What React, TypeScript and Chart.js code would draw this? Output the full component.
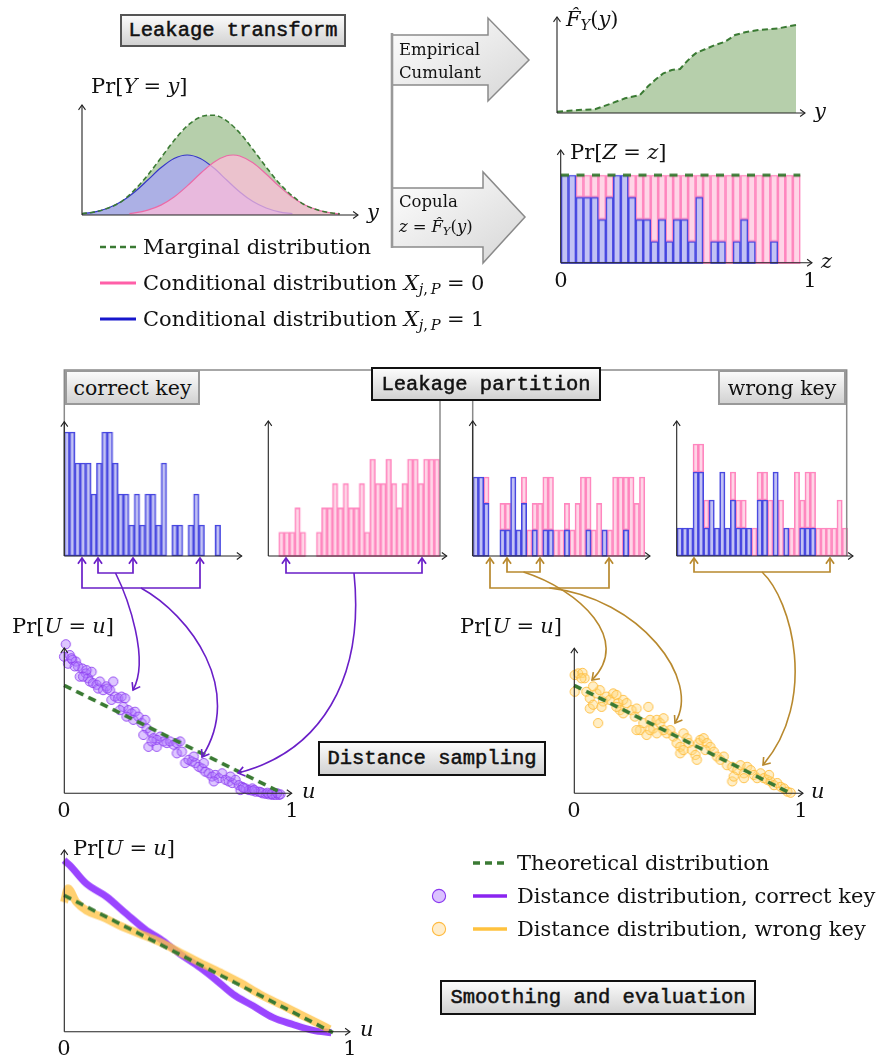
import React, { useEffect, useRef } from 'react';
import { Chart, registerables } from 'chart.js';

Chart.register(...registerables);

// ---------------- data ----------------
// Leakage transform: Pr[Y = y]
const Y_GRID_MARGINAL = [0, 0.05, 0.1, 0.15, 0.2, 0.25, 0.3, 0.35, 0.4, 0.45, 0.5, 0.55, 0.6, 0.65, 0.7, 0.75, 0.8, 0.85, 0.9, 0.95, 0.98];
const PDF_MARGINAL = [1.3, 3.2, 7.0, 13.4, 25.1, 39.9, 57.1, 74.5, 89.1, 98.0, 99.8, 94.2, 82.0, 65.6, 48.0, 31.8, 19.0, 9.7, 4.7, 2.0, 1.2];
const Y_GRID_X1 = [0, 0.05, 0.1, 0.15, 0.2, 0.25, 0.3, 0.35, 0.4, 0.45, 0.5, 0.55, 0.6, 0.65, 0.7, 0.75, 0.8];
const PDF_X1 = [1.3, 3.2, 7.0, 13.4, 23.0, 35.0, 47.2, 56.5, 60.0, 56.5, 47.2, 35.0, 23.0, 13.4, 7.0, 3.2, 1.3];
const Y_GRID_X0 = [0.18, 0.2, 0.25, 0.3, 0.35, 0.4, 0.45, 0.5, 0.55, 0.575, 0.6, 0.65, 0.7, 0.75, 0.8, 0.85, 0.9, 0.95, 0.98];
const PDF_X0 = [1.5, 2.1, 4.9, 9.9, 18.0, 29.1, 41.5, 52.6, 59.2, 60.0, 59.0, 52.2, 41.0, 28.6, 17.7, 9.7, 4.7, 2.0, 1.2];

// Empirical cumulant F_Y(y)
const CDF_Y = [0, 0.089, 0.159, 0.229, 0.285, 0.347, 0.382, 0.41, 0.445, 0.48, 0.515, 0.536, 0.563, 0.584, 0.619, 0.661, 0.703, 0.745, 0.787, 0.842, 0.926, 1.0];
const CDF_F = [0.015, 0.034, 0.042, 0.11, 0.167, 0.205, 0.307, 0.375, 0.451, 0.489, 0.5, 0.565, 0.64, 0.685, 0.724, 0.773, 0.81, 0.886, 0.917, 0.943, 0.962, 1.0];

// Copula histograms (32 bins)
const BIN_LABELS = ['1', '2', '3', '4', '5', '6', '7', '8', '9', '10', '11', '12', '13', '14', '15', '16', '17', '18', '19', '20', '21', '22', '23', '24', '25', '26', '27', '28', '29', '30', '31', '32'];
const Z_HIST_X1 = [4, 4, 3, 3, 3, 2, 3, 4, 4, 3, 2, 2, 1, 2, 1, 2, 2, 1, 3, 0, 1, 1, 0, 1, 2, 1, 0, 0, 1, 0, 0, 0];
const Z_HIST_X0 = [0, 0, 1, 1, 1, 2, 1, 0, 0, 1, 2, 2, 3, 2, 3, 2, 2, 3, 1, 4, 3, 3, 4, 3, 2, 3, 4, 4, 3, 4, 4, 4];
const UNIFORM_Z = [0, 1];
const UNIFORM_LEVEL = [4, 4];

// Wrong key partitions
const WRONG_A_X1 = [3, 3, 2, 0, 0, 1, 1, 3, 1, 2, 0, 1, 0, 1, 1, 0, 0, 1, 0, 0, 0, 1, 0, 0, 1, 0, 0, 0, 1, 0, 0, 0];
const WRONG_A_X0 = [0, 0, 1, 0, 0, 1, 1, 0, 0, 1, 1, 1, 2, 2, 2, 1, 1, 1, 1, 2, 3, 2, 1, 2, 0, 1, 3, 3, 2, 3, 2, 3];
const WRONG_B_X1 = [1, 1, 1, 3, 3, 1, 2, 1, 3, 1, 2, 1, 1, 1, 0, 2, 2, 0, 3, 0, 1, 0, 0, 1, 1, 1, 0, 0, 0, 0, 0, 0];
const WRONG_B_X0 = [0, 0, 0, 1, 1, 1, 0, 0, 0, 0, 1, 1, 1, 0, 1, 1, 1, 2, 0, 2, 0, 1, 3, 1, 2, 2, 1, 1, 1, 1, 2, 1];

// Distance samples (u, Pr)
const CORRECT_SAMPLES = [
  [0.008, 2.76], [0.0, 2.53], [0.018, 2.4], [0.026, 2.56], [0.038, 2.47], [0.054, 2.44], [0.064, 2.35], [0.072, 2.16],
  [0.084, 2.31], [0.1, 2.22], [0.11, 2.13], [0.126, 2.25], [0.118, 2.07], [0.133, 2.04], [0.149, 2.01], [0.156, 1.94],
  [0.164, 2.07], [0.179, 1.91], [0.194, 1.98], [0.21, 1.91], [0.225, 2.07], [0.217, 1.73], [0.233, 1.79], [0.248, 1.76],
  [0.263, 1.79], [0.279, 1.76], [0.271, 1.6], [0.294, 1.54], [0.309, 1.48], [0.325, 1.51], [0.317, 1.36], [0.34, 1.42],
  [0.355, 1.3], [0.371, 1.36], [0.378, 1.2], [0.394, 1.14], [0.363, 1.08], [0.386, 0.86], [0.409, 1.02], [0.424, 0.86],
  [0.44, 1.05], [0.455, 0.96], [0.47, 0.93], [0.485, 0.96], [0.501, 0.9], [0.516, 0.93], [0.531, 0.96], [0.516, 0.74],
  [0.539, 0.77], [0.554, 0.56], [0.57, 0.62], [0.585, 0.59], [0.6, 0.56], [0.616, 0.49], [0.631, 0.46], [0.646, 0.4],
  [0.662, 0.37], [0.677, 0.31], [0.692, 0.34], [0.708, 0.28], [0.723, 0.37], [0.685, 0.22], [0.738, 0.25], [0.753, 0.22],
  [0.769, 0.19], [0.784, 0.25], [0.799, 0.15], [0.815, 0.12], [0.83, 0.09], [0.845, 0.06], [0.861, 0.09], [0.876, 0.03],
  [0.891, 0.03], [0.907, 0.0], [0.922, -0.01], [0.937, -0.02], [0.953, -0.03], [0.968, -0.03], [0.983, -0.03], [0.807, 0.06],
  [0.761, 0.31], [0.639, 0.56], [0.593, 0.68], [0.424, 0.99], [0.401, 0.96], [0.286, 1.42], [0.256, 1.54], [0.198, 1.94],
  [0.103, 2.28], [0.087, 2.16], [0.049, 2.35], [0.034, 2.5], [0.86, 0.05], [0.9, 0.02], [0.93, 0.01], [0.95, -0.01],
  [0.975, 0.0], [0.99, -0.02], [0.82, 0.1], [0.87, 0.06],
];
const WRONG_SAMPLES = [
  [0.003, 2.19], [0.019, 2.22], [0.039, 2.23], [0.049, 2.13], [0.003, 1.88], [0.057, 1.88], [0.073, 1.76], [0.073, 1.57],
  [0.088, 1.64], [0.104, 1.85], [0.119, 1.91], [0.111, 1.3], [0.134, 1.7], [0.15, 1.79], [0.165, 1.73], [0.181, 1.85],
  [0.196, 1.82], [0.204, 1.67], [0.212, 1.54], [0.227, 1.73], [0.243, 1.67], [0.227, 1.48], [0.266, 1.54], [0.281, 1.42],
  [0.289, 1.57], [0.304, 1.17], [0.32, 1.3], [0.335, 1.08], [0.343, 1.6], [0.351, 1.36], [0.366, 1.2], [0.382, 1.36],
  [0.397, 1.3], [0.413, 1.39], [0.428, 1.11], [0.444, 1.17], [0.459, 1.05], [0.474, 0.93], [0.49, 0.86], [0.505, 1.11],
  [0.521, 1.02], [0.529, 0.93], [0.49, 0.74], [0.544, 0.8], [0.56, 0.71], [0.575, 0.93], [0.583, 0.99], [0.598, 1.02],
  [0.614, 0.93], [0.629, 0.86], [0.645, 0.77], [0.66, 0.68], [0.675, 0.62], [0.691, 0.68], [0.706, 0.52], [0.73, 0.49],
  [0.73, 0.22], [0.753, 0.43], [0.768, 0.52], [0.784, 0.37], [0.799, 0.49], [0.815, 0.43], [0.83, 0.34], [0.845, 0.28],
  [0.861, 0.37], [0.876, 0.28], [0.892, 0.25], [0.907, 0.22], [0.923, 0.15], [0.938, 0.19], [0.954, 0.12], [0.969, 0.09],
  [0.985, 0.03], [1.0, 0.01], [0.351, 1.17], [0.413, 1.17], [0.289, 1.17], [0.088, 1.98], [0.034, 2.13], [0.127, 1.6],
  [0.505, 0.8], [0.606, 0.8], [0.737, 0.31], [0.784, 0.28], [0.9, 0.34], [0.567, 0.62], [0.382, 1.11], [0.196, 1.6],
];
const THEORY_U = [0, 1];
const THEORY_PDF = [2, 0];

// Smoothed distance distributions
const SMOOTH_CORRECT_U = [0, 0.021, 0.083, 0.158, 0.232, 0.306, 0.356, 0.43, 0.505, 0.567, 0.628, 0.703, 0.777, 0.851, 0.926, 0.994];
const SMOOTH_CORRECT_PDF = [2.51, 2.44, 2.17, 1.98, 1.73, 1.49, 1.37, 1.15, 0.95, 0.76, 0.56, 0.39, 0.22, 0.12, 0.035, 0.0];
const SMOOTH_WRONG_U = [0, 0.015, 0.046, 0.083, 0.145, 0.207, 0.281, 0.356, 0.43, 0.505, 0.579, 0.654, 0.728, 0.815, 0.901, 0.988];
const SMOOTH_WRONG_PDF = [1.9, 2.1, 1.9, 1.78, 1.68, 1.56, 1.44, 1.32, 1.17, 1.02, 0.88, 0.73, 0.56, 0.39, 0.22, 0.05];

// ---------------- styles ----------------
const SERIF = '"DejaVu Serif", "Liberation Serif", serif';
const MONO = '"Liberation Mono", "DejaVu Sans Mono", monospace';
const GREEN = '#3a7a33';
const GREEN_FILL = 'rgb(182,207,171)';
const BLUE_BAR = 'rgba(110,110,228,0.42)';
const BLUE_EDGE = '#4545e0';
const PINK_BAR = 'rgba(255,150,195,0.4)';
const PINK_EDGE = '#ff86bf';
const PURPLE = '#6a1fc8';
const GOLD = '#b8892e';
const PAD = 20;

const pts = (xs: number[], ys: number[]) => xs.map((x, i) => ({ x, y: ys[i] }));
const pairs = (p: number[][]) => p.map(([x, y]) => ({ x, y }));
const lin = (min: number, max: number, extra: any = {}) => ({ type: 'linear', min, max, display: false, ...extra });

function common(scales: any) {
  return {
    responsive: true,
    maintainAspectRatio: false,
    animation: false,
    devicePixelRatio: 1,
    events: [],
    layout: { padding: PAD },
    plugins: { legend: { display: false }, tooltip: { enabled: false }, title: { display: false } },
    scales,
  };
}

const barStyle = { borderWidth: 1, borderSkipped: false, barPercentage: 1, categoryPercentage: 1, clip: false };

function histConfig(blue: number[] | null, pink: number[] | null, max: number) {
  const ds: any[] = [];
  // lower order = stacked first (bottom); blue sits at the bottom of each bin
  if (blue) ds.push({ data: blue, backgroundColor: BLUE_BAR, borderColor: BLUE_EDGE, stack: 's', order: 1, ...barStyle });
  if (pink) ds.push({ data: pink, backgroundColor: PINK_BAR, borderColor: PINK_EDGE, stack: 's', order: 2, ...barStyle });
  const scales: any = {
    x: { type: 'category', stacked: true, display: false },
    y: lin(0, max, { stacked: true }),
  };
  return { type: 'bar', data: { labels: BIN_LABELS, datasets: ds }, options: common(scales) };
}

function scatterConfig(samples: number[][], fill: string, edge: string) {
  return {
    type: 'scatter',
    data: {
      datasets: [
        { type: 'line', data: pts(THEORY_U, THEORY_PDF), borderColor: GREEN, borderWidth: 3.6, borderDash: [8, 5.5], pointRadius: 0, fill: false, clip: false, order: 0 },
        { data: pairs(samples), pointRadius: 4.6, backgroundColor: fill, borderColor: edge, borderWidth: 1, clip: false, order: 1 },
      ],
    },
    options: common({ x: lin(0, 1), y: lin(0, 2.839) }),
  };
}

const Z_AREA = { x: 560.7, y: 175, w: 239.3, h: 87.7 };

const CONFIGS: { area: { x: number; y: number; w: number; h: number }; config: any }[] = [
  {
    area: { x: 82, y: 115, w: 263, h: 100 },
    config: {
      type: 'line',
      data: {
        datasets: [
          { data: pts(Y_GRID_MARGINAL, PDF_MARGINAL), borderColor: GREEN, borderWidth: 1.6, borderDash: [5, 3], fill: false, pointRadius: 0, cubicInterpolationMode: 'monotone', clip: false, order: 0 },
          { data: pts(Y_GRID_X0, PDF_X0), borderColor: '#ec6aa6', borderWidth: 1.2, backgroundColor: 'rgba(255,188,218,0.72)', fill: 'origin', pointRadius: 0, cubicInterpolationMode: 'monotone', order: 1 },
          { data: pts(Y_GRID_X1, PDF_X1), borderColor: '#3535c8', borderWidth: 1.2, backgroundColor: 'rgba(170,170,238,0.85)', fill: 'origin', pointRadius: 0, cubicInterpolationMode: 'monotone', order: 2 },
          { data: pts(Y_GRID_MARGINAL, PDF_MARGINAL), borderWidth: 0, borderColor: 'rgba(0,0,0,0)', backgroundColor: GREEN_FILL, fill: 'origin', pointRadius: 0, cubicInterpolationMode: 'monotone', order: 3 },
        ],
      },
      options: common({ x: lin(0, 1), y: lin(0, 100) }),
    },
  },
  {
    area: { x: 557, y: 25, w: 239, h: 88 },
    config: {
      type: 'line',
      data: {
        datasets: [
          { data: pts(CDF_Y, CDF_F), borderColor: GREEN, borderWidth: 2, borderDash: [6, 3.5], backgroundColor: GREEN_FILL, fill: 'origin', pointRadius: 0, tension: 0, clip: false },
        ],
      },
      options: common({ x: lin(0, 1), y: lin(0, 1) }),
    },
  },
  { area: Z_AREA, config: histConfig(Z_HIST_X1, Z_HIST_X0, 4) },
  {
    area: Z_AREA,
    config: {
      type: 'line',
      data: {
        datasets: [
          { data: pts(UNIFORM_Z, UNIFORM_LEVEL), borderColor: GREEN, borderWidth: 3, borderDash: [8, 7.5], pointRadius: 0, fill: false, clip: false },
        ],
      },
      options: common({ x: lin(0, 1), y: lin(0, 4) }),
    },
  },
  { area: { x: 64.3, y: 432, w: 171.8, h: 124 }, config: histConfig(Z_HIST_X1, null, 4) },
  { area: { x: 268.3, y: 459.3, w: 170.7, h: 96.7 }, config: histConfig(null, Z_HIST_X0, 4) },
  { area: { x: 472.7, y: 476.7, w: 171.8, h: 79.3 }, config: histConfig(WRONG_A_X1, WRONG_A_X0, 3) },
  { area: { x: 676.7, y: 444, w: 170.6, h: 112 }, config: histConfig(WRONG_B_X1, WRONG_B_X0, 4) },
  { area: { x: 64.3, y: 640, w: 217.7, h: 153.3 }, config: scatterConfig(CORRECT_SAMPLES, 'rgba(175,120,255,0.42)', 'rgba(140,60,240,0.85)') },
  { area: { x: 574.3, y: 640, w: 215.7, h: 153.3 }, config: scatterConfig(WRONG_SAMPLES, 'rgba(255,215,120,0.42)', 'rgba(255,188,60,0.9)') },
  {
    area: { x: 64.3, y: 850, w: 269, h: 181.7 },
    config: {
      type: 'line',
      data: {
        datasets: [
          { data: pts(THEORY_U, THEORY_PDF), borderColor: GREEN, borderWidth: 3.6, borderDash: [8, 5.5], pointRadius: 0, fill: false, clip: false, order: 0 },
          { data: pts(SMOOTH_WRONG_U, SMOOTH_WRONG_PDF), borderColor: 'rgba(255,195,70,0.78)', borderWidth: 8, pointRadius: 0, fill: false, cubicInterpolationMode: 'monotone', clip: false, order: 1 },
          { data: pts(SMOOTH_CORRECT_U, SMOOTH_CORRECT_PDF), borderColor: '#9a45ff', borderWidth: 7, pointRadius: 0, fill: false, cubicInterpolationMode: 'monotone', clip: false, order: 2 },
        ],
      },
      options: common({ x: lin(0, 1), y: lin(0, 2.658) }),
    },
  },
];

// ---------------- layout (decorations) ----------------
const AXES = [
  { ox: 82, oy: 215, xt: 358, yt: 105 },
  { ox: 557, oy: 113, xt: 805, yt: 17 },
  { ox: 560.7, oy: 262.7, xt: 812, yt: 150 },
  { ox: 64.3, oy: 556, xt: 241.7, yt: 421.7 },
  { ox: 268.3, oy: 556, xt: 446.7, yt: 421 },
  { ox: 472.7, oy: 556, xt: 650, yt: 421 },
  { ox: 676.7, oy: 556, xt: 853, yt: 421 },
  { ox: 64.3, oy: 793.3, xt: 291.7, yt: 648 },
  { ox: 574.3, oy: 793.3, xt: 803, yt: 648.3 },
  { ox: 64.3, oy: 1031.7, xt: 350, yt: 850 },
];

const BRACKETS = [
  { c: PURPLE, a: 98, b: 133, y: 573 },
  { c: PURPLE, a: 82, b: 200, y: 588 },
  { c: PURPLE, a: 286, b: 422, y: 573 },
  { c: GOLD, a: 507, b: 540, y: 572 },
  { c: GOLD, a: 490, b: 609, y: 588 },
  { c: GOLD, a: 694, b: 830, y: 572 },
];

const CURVES = [
  { c: PURPLE, p: [[115.5, 573], [128, 598], [150, 660], [133, 690]] },
  { c: PURPLE, p: [[141, 588], [190, 615], [245, 690], [202, 757]] },
  { c: PURPLE, p: [[354, 573], [365, 680], [320, 752], [238, 773]] },
  { c: GOLD, p: [[523.5, 572], [580, 590], [632, 640], [592, 680]] },
  { c: GOLD, p: [[549.5, 588], [640, 598], [702, 680], [675, 723]] },
  { c: GOLD, p: [[762, 572], [792, 600], [818, 700], [763, 765]] },
];

function head(tx: number, ty: number, dx: number, dy: number, L = 6, a = 0.62) {
  const len = Math.hypot(dx, dy);
  const bx = -dx / len, by = -dy / len;
  const c = Math.cos(a), s = Math.sin(a);
  const p1x = tx + L * (bx * c - by * s), p1y = ty + L * (bx * s + by * c);
  const p2x = tx + L * (bx * c + by * s), p2y = ty + L * (-bx * s + by * c);
  return `M${p1x},${p1y} L${tx},${ty} L${p2x},${p2y}`;
}

function ChartBox({ area, config }: { area: { x: number; y: number; w: number; h: number }; config: any }) {
  const ref = useRef<HTMLCanvasElement>(null);
  useEffect(() => {
    const chart = new Chart(ref.current as HTMLCanvasElement, config);
    return () => chart.destroy();
  }, []);
  return (
    <div style={{ position: 'absolute', left: area.x - PAD, top: area.y - PAD, width: area.w + 2 * PAD, height: area.h + 2 * PAD }}>
      <canvas ref={ref} />
    </div>
  );
}

function Txt({ x, y, size = 21, align = 'left', font = SERIF, children }: any) {
  return (
    <div
      style={{
        position: 'absolute', left: x, top: y,
        transform: `translate(${align === 'center' ? '-50%' : '0'},-50%)`,
        fontSize: size, fontFamily: font, lineHeight: 1, whiteSpace: 'nowrap', color: '#111',
      }}
    >
      {children}
    </div>
  );
}

function LBox({ x, y, w, h, border, font = MONO, size = 20.5, stroke = true, children }: any) {
  return (
    <div
      style={{
        position: 'absolute', left: x, top: y, width: w, height: h, boxSizing: 'border-box',
        border: `2px solid ${border}`, background: 'linear-gradient(#fbfbfb, #d2d2d2)',
        display: 'flex', alignItems: 'center', justifyContent: 'center',
        fontFamily: font, fontSize: size, color: '#111', whiteSpace: 'nowrap',
        WebkitTextStroke: stroke ? '0.5px #111' : undefined,
      }}
    >
      {children}
    </div>
  );
}

const Sub = ({ children }: any) => <sub style={{ fontSize: '0.7em', verticalAlign: '-0.3em', lineHeight: 0 }}>{children}</sub>;
const I = ({ children }: any) => <i>{children}</i>;
const Eq = () => <span style={{ margin: '0 0.3em' }}>=</span>;
const FHat = () => (<><I>F&#770;</I><Sub><I>Y</I></Sub></>);
const PrU = () => (<span>Pr[<I>U</I><Eq /><I>u</I>]</span>);

export default function App() {
  return (
    <div style={{ position: 'absolute', left: 0, top: 0, width: 881, height: 1061, background: '#fff', overflow: 'hidden' }}>
      {CONFIGS.map((c, i) => (
        <ChartBox key={i} area={c.area} config={c.config} />
      ))}
      <svg width={881} height={1061} style={{ position: 'absolute', left: 0, top: 0, pointerEvents: 'none' }}>
        <defs>
          <linearGradient id="blk" x1="0" y1="0" x2="1" y2="1">
            <stop offset="0" stopColor="#ffffff" />
            <stop offset="1" stopColor="#d6d6d6" />
          </linearGradient>
        </defs>
        {/* partition frames */}
        <path d="M64.3,556 V370 H440 V556" fill="none" stroke="#8a8a8a" strokeWidth={1.5} />
        <path d="M472.7,556 V370 H846.7 V556" fill="none" stroke="#8a8a8a" strokeWidth={1.5} />
        {/* block arrows */}
        <path d="M392,35 H488 V18 L529,60 L488,101 V85 H392 Z" fill="url(#blk)" stroke="#8a8a8a" strokeWidth={1.5} />
        <path d="M392,188 H483 V172 L525,217 L483,263 V247 H392 Z" fill="url(#blk)" stroke="#8a8a8a" strokeWidth={1.5} />
        <path d="M392,33 V248" stroke="#999" strokeWidth={2.6} />
        {/* axes */}
        {AXES.map((a, i) => (
          <g key={i} stroke="#222" strokeWidth={1.1} fill="none">
            <path d={`M${a.ox},${a.oy} H${a.xt}`} />
            <path d={head(a.xt, a.oy, 1, 0, 6)} />
            <path d={`M${a.ox},${a.oy} V${a.yt}`} />
            <path d={head(a.ox, a.yt, 0, -1, 6)} />
          </g>
        ))}
        {/* brackets */}
        {BRACKETS.map((b, i) => (
          <g key={i} stroke={b.c} strokeWidth={1.7} fill="none">
            <path d={`M${b.a},558 V${b.y} H${b.b} V558`} />
            <path d={head(b.a, 558, 0, -1, 7)} />
            <path d={head(b.b, 558, 0, -1, 7)} />
          </g>
        ))}
        {/* curved arrows */}
        {CURVES.map((c, i) => {
          const [p0, p1, p2, p3] = c.p;
          return (
            <g key={i} stroke={c.c} strokeWidth={1.6} fill="none">
              <path d={`M${p0[0]},${p0[1]} C${p1[0]},${p1[1]} ${p2[0]},${p2[1]} ${p3[0]},${p3[1]}`} />
              <path d={head(p3[0], p3[1], p3[0] - p2[0], p3[1] - p2[1], 8)} />
            </g>
          );
        })}
        {/* top-left legend samples */}
        <path d="M100,247 H136" stroke={GREEN} strokeWidth={2.4} strokeDasharray="6,4" />
        <path d="M100,283 H136" stroke="#ff5fa8" strokeWidth={2.8} />
        <path d="M100,319 H136" stroke="#1616cc" strokeWidth={2.8} />
        {/* bottom-right legend samples */}
        <path d="M473,863 H507" stroke={GREEN} strokeWidth={3.4} strokeDasharray="7,5" />
        <path d="M473,896 H507" stroke="#8a24f0" strokeWidth={3.6} />
        <path d="M473,929 H507" stroke="#ffc23e" strokeWidth={3.6} />
        <circle cx={439} cy={896} r={6.6} fill="rgba(175,120,255,0.45)" stroke="#8a38f0" strokeWidth={1.1} />
        <circle cx={439} cy={929} r={6.6} fill="rgba(255,215,140,0.45)" stroke="#ffbb40" strokeWidth={1.1} />
      </svg>

      {/* boxes */}
      <LBox x={120} y={14} w={226} h={33} border="#555">Leakage transform</LBox>
      <LBox x={65} y={370} w={135} h={35} border="#999" font={SERIF} size={20.5} stroke={false}>correct key</LBox>
      <LBox x={371} y={367} w={230} h={34} border="#111">Leakage partition</LBox>
      <LBox x={718} y={370} w={128} h={35} border="#999" font={SERIF} size={20.5} stroke={false}>wrong key</LBox>
      <LBox x={318} y={741} w={228} h={35} border="#111">Distance sampling</LBox>
      <LBox x={440} y={980} w={316} h={35} border="#111">Smoothing and evaluation</LBox>

      {/* leakage transform labels */}
      <Txt x={91} y={86}>Pr[<I>Y</I><Eq /><I>y</I>]</Txt>
      <Txt x={367} y={212}><I>y</I></Txt>
      <Txt x={143} y={247}>Marginal distribution</Txt>
      <Txt x={143} y={283}>Conditional distribution <I>X</I><Sub><I>j</I>,&thinsp;<I>P</I></Sub><Eq />0</Txt>
      <Txt x={143} y={319}>Conditional distribution <I>X</I><Sub><I>j</I>,&thinsp;<I>P</I></Sub><Eq />1</Txt>
      <Txt x={399} y={50} size={16.5}>Empirical</Txt>
      <Txt x={399} y={73} size={16.5}>Cumulant</Txt>
      <Txt x={399} y={202} size={16.5}>Copula</Txt>
      <Txt x={399} y={227} size={16.5}><I>z</I><Eq /><FHat />(<I>y</I>)</Txt>

      {/* top right labels */}
      <Txt x={566} y={19}><FHat />(<I>y</I>)</Txt>
      <Txt x={814} y={111}><I>y</I></Txt>
      <Txt x={570} y={152}>Pr[<I>Z</I><Eq /><I>z</I>]</Txt>
      <Txt x={821} y={261}><I>z</I></Txt>
      <Txt x={561} y={280} align="center">0</Txt>
      <Txt x={810} y={280} align="center">1</Txt>

      {/* distance sampling labels */}
      <Txt x={12} y={626}><PrU /></Txt>
      <Txt x={302} y={791}><I>u</I></Txt>
      <Txt x={64} y={810} align="center">0</Txt>
      <Txt x={292} y={810} align="center">1</Txt>
      <Txt x={460} y={626}><PrU /></Txt>
      <Txt x={811} y={791}><I>u</I></Txt>
      <Txt x={574} y={810} align="center">0</Txt>
      <Txt x={801} y={810} align="center">1</Txt>

      {/* smoothing labels */}
      <Txt x={73} y={848}><PrU /></Txt>
      <Txt x={360} y={1029}><I>u</I></Txt>
      <Txt x={64} y={1048} align="center">0</Txt>
      <Txt x={350} y={1048} align="center">1</Txt>
      <Txt x={517} y={863}>Theoretical distribution</Txt>
      <Txt x={517} y={896}>Distance distribution, correct key</Txt>
      <Txt x={517} y={929}>Distance distribution, wrong key</Txt>
    </div>
  );
}
